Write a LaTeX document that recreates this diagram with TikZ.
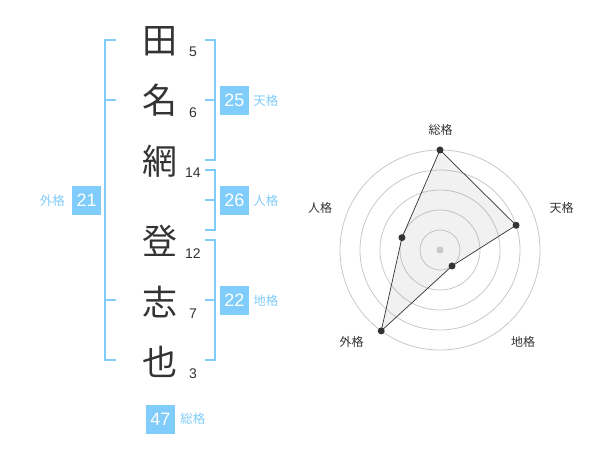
\documentclass[tikz,border=0pt]{standalone}
\usepackage{fontspec}
\setmainfont{Liberation Sans}
\newfontfamily\jp{Noto Sans CJK JP}
\usepackage{xcolor}
\usetikzlibrary{positioning}
\definecolor{skyblue}{RGB}{128,204,250}
\definecolor{ink}{RGB}{51,51,51}
\definecolor{ringgray}{RGB}{200,200,200}
\definecolor{webfill}{RGB}{160,160,160}

\begin{document}
\begin{tikzpicture}[x=1pt,y=-1pt,node distance=20pt,
	char/.style={inner sep=0pt,minimum height=40pt,text height=30pt,text depth=5pt,font=\jp\fontsize{35}{35}\selectfont,text=ink},
	num/.style={inner sep=0pt,font=\fontsize{14}{14}\selectfont,text=ink},
	box/.style={fill=skyblue,text=white,minimum size=29pt,inner sep=0pt,font=\fontsize{18}{18}\selectfont},
	tag/.style={inner sep=0pt,text=skyblue,font=\jp\fontsize{12.5}{12.5}\selectfont},
	bracket/.style={draw=skyblue,line width=1.8pt},
	ring/.style={draw=ringgray,line width=0.8pt},
	axis/.style={inner sep=0pt,text=ink,font=\jp\fontsize{12}{12}\selectfont},
	dot/.style={circle,fill=ink,inner sep=0pt,minimum size=7pt}]
	\useasboundingbox (0,0) rectangle (600,470);

	% name
	\node[char] (c1) at (160,41) {田};
	\node[char] (c2) [below=of c1] {名};
	\node[char] (c3) [below=of c2] {網};
	\node[char] (c4) [below=40pt of c3] {登};
	\node[char] (c5) [below=of c4] {志};
	\node[char] (c6) [below=of c5] {也};

	% strokes
	\node[num] (n1) at ([shift={(33,11)}]c1) {5};
	\node[num] (n2) at ([shift={(33,11)}]c2) {6};
	\node[num] (n3) at ([shift={(33,11)}]c3) {14};
	\node[num] (n4) at ([shift={(33,11)}]c4) {12};
	\node[num] (n5) at ([shift={(33,11)}]c5) {7};
	\node[num] (n6) at ([shift={(33,11)}]c6) {3};

	% brackets
	\draw[bracket] (116,40) -| (105,360) -- (116,360);
	\draw[bracket] (105,100) -- (116,100) (105,300) -- (116,300);
	\draw[bracket] (205,40) -| (215,160) -- (205,160);
	\draw[bracket] (205,100) -- (215,100);
	\draw[bracket] (205,170) -| (215,230) -- (205,230);
	\draw[bracket] (205,200) -- (215,200);
	\draw[bracket] (205,240) -| (215,360) -- (205,360);
	\draw[bracket] (205,300) -- (215,300);

	% scores
	\node[box] (ten) at (234.5,100.5) {25};
	\node[tag] (tent) [right=4pt of ten] {天格};
	\node[box] (jin) at (234.5,200.5) {26};
	\node[tag] (jint) [right=4pt of jin] {人格};
	\node[box] (chi) at (234.5,300.5) {22};
	\node[tag] (chit) [right=4pt of chi] {地格};
	\node[box] (gai) at (86.7,200.5) {21};
	\node[tag] (gait) [left=7pt of gai] {外格};
	\node[box] (sou) at (160.5,419) {47};
	\node[tag] (sout) [right=5pt of sou] {総格};

	% radar
	\begin{scope}[shift={(440,250)},y=1pt]
		\foreach \r in {20,40,...,100}
			\draw[ring] (0,0) circle (\r pt);
		\coordinate (p1) at (90:100);
		\coordinate (p2) at (18:80);
		\coordinate (p3) at (-53:20);
		\coordinate (p4) at (-126:100);
		\coordinate (p5) at (162:40);
		\fill[webfill,fill opacity=0.15] (p1) -- (p2) -- (p3) -- (p4) -- (p5) -- cycle;
		\draw[ink,line width=0.7pt] (p1) -- (p2) -- (p3) -- (p4) -- (p5) -- cycle;
		\node[circle,fill=ringgray,inner sep=0pt,minimum size=7pt] (o) at (0,0) {};
		\foreach \p in {p1,p2,p3,p4,p5}
			\node[dot] at (\p) {};
		\node[axis] (a1) at (0.7,120) {総格};
		\node[axis] (a2) at (121.7,41.7) {天格};
		\node[axis] (a3) at (83,-91.7) {地格};
		\node[axis] (a4) at (-88.3,-91.7) {外格};
		\node[axis] (a5) at (-120,41.7) {人格};
	\end{scope}
\end{tikzpicture}
\end{document}
